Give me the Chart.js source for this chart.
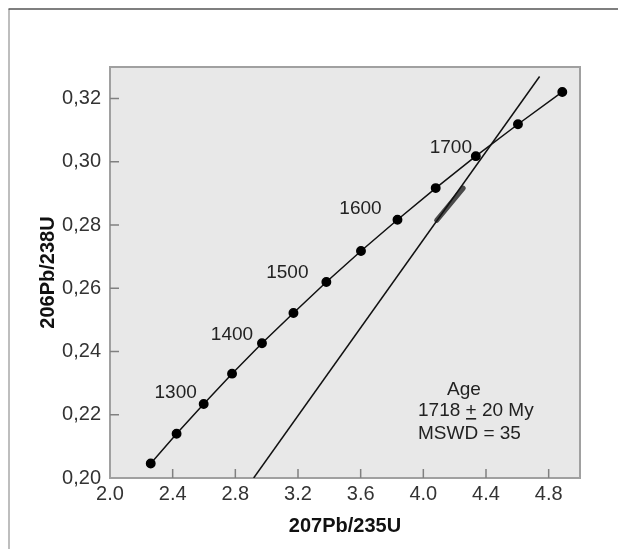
<!DOCTYPE html>
<html>
<head>
<meta charset="utf-8">
<script src="https://cdn.jsdelivr.net/npm/chart.js@4/dist/chart.umd.min.js"></script>
<style>
  html, body { margin: 0; padding: 0; background: #fff; }
</style>
</head>
<body>
<canvas id="concordia" width="618" height="549"></canvas>
<script>
// concordia points, every 50 My
const ages = [1200, 1250, 1300, 1350, 1400, 1450, 1500, 1550, 1600, 1650, 1700, 1750, 1800];
const pb207u235 = [2.260, 2.425, 2.598, 2.779, 2.970, 3.171, 3.381, 3.602, 3.835, 4.079, 4.335, 4.604, 4.887];
const pb206u238 = [0.2046, 0.2140, 0.2234, 0.2330, 0.2426, 0.2522, 0.2620, 0.2718, 0.2817, 0.2917, 0.3018, 0.3119, 0.3221];
const labelledAges = [1300, 1400, 1500, 1600, 1700];

// discordia line and the cluster of error ellipses on it
const discordiaX = [2.917, 4.742];
const discordiaY = [0.200, 0.327];
const ellipseX = [4.085, 4.255];
const ellipseY = [0.2815, 0.2917];

const xTicks = [2.0, 2.4, 2.8, 3.2, 3.6, 4.0, 4.4, 4.8];
const yTicks = [0.20, 0.22, 0.24, 0.26, 0.28, 0.30, 0.32];

const FONT = '"Liberation Sans", Arial, sans-serif';
Chart.defaults.font.family = FONT;
Chart.defaults.color = '#222';

// label offsets (pixels) from the concordia point they name
const labelOffsets = [[-28, -11], [-30, -9], [-39, -9], [-37, -11], [-25, -8]];

const frame = {
  id: 'frame',
  beforeDraw(chart) {
    const { ctx, chartArea: a } = chart;
    ctx.save();
    // outer page frame
    ctx.strokeStyle = '#a8a8a8';
    ctx.lineWidth = 1.5;
    ctx.beginPath();
    ctx.moveTo(9, 549); ctx.lineTo(9, 9);
    ctx.stroke();
    ctx.strokeStyle = '#555';
    ctx.beginPath();
    ctx.moveTo(8.5, 9); ctx.lineTo(618, 9);
    ctx.stroke();
    // plot background
    ctx.fillStyle = '#e8e8e8';
    ctx.fillRect(a.left, a.top, a.right - a.left, a.bottom - a.top);
    ctx.strokeStyle = '#a0a0a0';
    ctx.lineWidth = 2;
    ctx.strokeRect(a.left, a.top, a.right - a.left, a.bottom - a.top);
    // inward tick marks
    const xs = chart.scales.x, ys = chart.scales.y;
    ctx.strokeStyle = '#808080';
    ctx.lineWidth = 1.5;
    ctx.beginPath();
    xTicks.forEach(v => {
      const px = xs.getPixelForValue(v);
      if (px <= a.left + 2) return;
      ctx.moveTo(px, a.bottom); ctx.lineTo(px, a.bottom - 9);
    });
    yTicks.forEach(v => {
      const py = ys.getPixelForValue(v);
      if (py >= a.bottom - 2) return;
      ctx.moveTo(a.left, py); ctx.lineTo(a.left + 9, py);
    });
    ctx.stroke();
    ctx.restore();
  },
  afterDraw(chart) {
    const { ctx } = chart;
    const xs = chart.scales.x, ys = chart.scales.y;
    ctx.save();
    ctx.fillStyle = '#222';
    ctx.font = '19px ' + FONT;
    ctx.textAlign = 'center';
    ctx.textBaseline = 'middle';
    labelledAges.forEach((age, i) => {
      const k = ages.indexOf(age);
      const px = xs.getPixelForValue(pb207u235[k]);
      const py = ys.getPixelForValue(pb206u238[k]);
      ctx.fillText(String(age), px + labelOffsets[i][0], py + labelOffsets[i][1]);
    });
    // age result
    const a = chart.chartArea;
    const left = a.right - 162;
    ctx.fillText('Age', a.right - 116, a.bottom - 88);
    ctx.textAlign = 'left';
    let x = left;
    const y2 = a.bottom - 67;
    ctx.fillText('1718 ', x, y2);
    x += ctx.measureText('1718 ').width;
    ctx.fillText('+', x, y2);
    const pw = ctx.measureText('+').width;
    ctx.fillRect(x + 0.5, y2 + 7, pw - 1, 1.6);
    x += pw;
    ctx.fillText(' 20 My', x, y2);
    ctx.fillText('MSWD = 35', left, a.bottom - 44);
    ctx.restore();
  }
};

const concordia = pb207u235.map((v, i) => ({ x: v, y: pb206u238[i] }));
const discordia = discordiaX.map((v, i) => ({ x: v, y: discordiaY[i] }));
const ellipses = ellipseX.map((v, i) => ({ x: v, y: ellipseY[i] }));

new Chart(document.getElementById('concordia'), {
  type: 'scatter',
  data: {
    datasets: [
      {
        label: 'Discordia',
        data: discordia,
        showLine: true,
        borderColor: '#111',
        borderWidth: 1.5,
        pointRadius: 0
      },
      {
        label: 'Ellipses',
        data: ellipses,
        showLine: true,
        borderColor: '#4a4a4a',
        borderWidth: 5,
        borderCapStyle: 'round',
        pointRadius: 0
      },
      {
        label: 'Concordia',
        data: concordia,
        showLine: true,
        borderColor: '#111',
        borderWidth: 1.5,
        pointRadius: 4.2,
        pointBackgroundColor: '#000',
        pointBorderColor: '#000'
      }
    ]
  },
  options: {
    responsive: false,
    animation: false,
    devicePixelRatio: 1,
    layout: { padding: { top: 67, right: 38, left: 0, bottom: 0 } },
    plugins: {
      legend: { display: false },
      tooltip: { enabled: false }
    },
    scales: {
      x: {
        type: 'linear',
        min: 2.0,
        max: 5.0,
        afterBuildTicks: s => { s.ticks = xTicks.map(v => ({ value: v })); },
        afterFit: s => { s.height = 71; },
        grid: { display: false, drawTicks: false },
        border: { display: false },
        ticks: {
          padding: 4,
          maxRotation: 0,
          autoSkip: false,
          font: { size: 20 },
          color: '#333',
          callback: v => Number(v).toFixed(1)
        },
        title: {
          display: true,
          text: '207Pb/235U',
          font: { size: 20, weight: 'bold' },
          color: '#111',
          padding: { top: 0, bottom: 11 }
        }
      },
      y: {
        type: 'linear',
        min: 0.20,
        max: 0.33,
        afterBuildTicks: s => { s.ticks = yTicks.map(v => ({ value: v })); },
        afterFit: s => { s.width = 110; },
        grid: { display: false, drawTicks: false },
        border: { display: false },
        ticks: {
          padding: 9,
          autoSkip: false,
          font: { size: 20 },
          color: '#333',
          callback: v => Number(v).toFixed(2).replace('.', ',')
        },
        title: {
          display: true,
          text: '206Pb/238U',
          font: { size: 20, weight: 'bold' },
          color: '#111',
          padding: { top: 36, bottom: 0 }
        }
      }
    }
  },
  plugins: [frame]
});
</script>
</body>
</html>
